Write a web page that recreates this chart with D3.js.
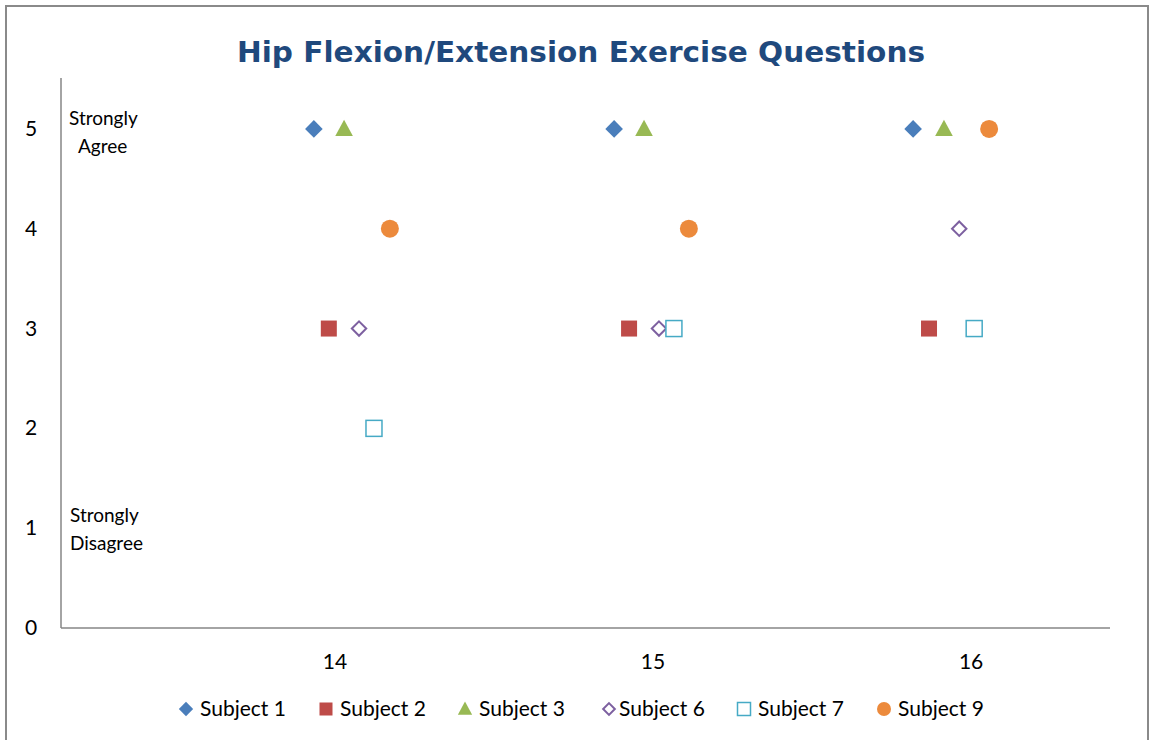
<!DOCTYPE html>
<html>
<head>
<meta charset="utf-8">
<script src="https://cdn.jsdelivr.net/npm/d3@7"></script>
<style>
  body { margin: 0; background: #fff; }
  text { font-family: Lato, "Open Sans", sans-serif; fill: #000; }
</style>
</head>
<body>
<div id="chart"></div>
<script>
var questions = [14, 15, 16];
var yTicks = [0, 1, 2, 3, 4, 5];
var subjects = ['Subject 1', 'Subject 2', 'Subject 3', 'Subject 6', 'Subject 7', 'Subject 9'];
var colors = ['#4a7ebb', '#be4b48', '#98b954', '#7d60a0', '#46aac5', '#ec8a3c'];
var shapes = ['diamond', 'square', 'triangle', 'diamondOpen', 'squareOpen', 'circle'];

// x positions are jittered around each question
var xS1 = [13.94, 14.884, 15.824];
var xS2 = [13.987, 14.931, 15.874];
var xS3 = [14.035, 14.978, 15.921];
var xS6 = [14.082, 15.025, 15.969];
var xS7 = [14.129, 15.072, 16.016];
var xS9 = [14.179, 15.119, 16.063];

var yS1 = [5, 5, 5];
var yS2 = [3, 3, 3];
var yS3 = [5, 5, 5];
var yS6 = [3, 3, 4];
var yS7 = [2, 3, 3];
var yS9 = [4, 4, 5];

var xs = [xS1, xS2, xS3, xS6, xS7, xS9];
var ys = [yS1, yS2, yS3, yS6, yS7, yS9];

var W = 1151, H = 740;
var svg = d3.select('#chart').append('svg').attr('width', W).attr('height', H);

// outer frame
svg.append('rect')
  .attr('x', 6).attr('y', 6).attr('width', 1142).attr('height', 740)
  .attr('fill', 'none').attr('stroke', '#8a8a8a').attr('stroke-width', 2);

var x = d3.scaleLinear().domain([13.145, 16.443]).range([61, 1110]);
var y = d3.scaleLinear().domain([0, 5.5]).range([628, 79]);

// title
svg.append('text')
  .attr('x', 581).attr('y', 62)
  .attr('text-anchor', 'middle')
  .attr('textLength', 688).attr('lengthAdjust', 'spacingAndGlyphs')
  .style('font-family', '"DejaVu Sans", sans-serif')
  .style('font-weight', 'bold').style('font-size', '29px')
  .style('fill', '#1f497d')
  .text('Hip Flexion/Extension Exercise Questions');

// axes
svg.append('line')
  .attr('x1', x.range()[0]).attr('x2', x.range()[0])
  .attr('y1', 78).attr('y2', y(0))
  .attr('stroke', '#868686').attr('stroke-width', 1.5);
svg.append('line')
  .attr('x1', x.range()[0]).attr('x2', x.range()[1])
  .attr('y1', y(0)).attr('y2', y(0))
  .attr('stroke', '#868686').attr('stroke-width', 1.5);

svg.selectAll('.ytick')
  .data(yTicks).enter().append('text')
  .attr('class', 'ytick')
  .attr('x', 31).attr('y', function(d) { return y(d) + 7; })
  .attr('text-anchor', 'middle')
  .style('font-size', '21px')
  .text(function(d) { return d; });

svg.selectAll('.xtick')
  .data(questions).enter().append('text')
  .attr('class', 'xtick')
  .attr('x', function(d) { return x(d) + 2; }).attr('y', 669)
  .attr('text-anchor', 'middle')
  .style('font-size', '21px')
  .text(function(d) { return d; });

// anchor labels
var anno = svg.append('g').style('font-size', '19px');
anno.append('text').attr('x', 69).attr('y', 125).text('Strongly');
anno.append('text').attr('x', 78).attr('y', 153).text('Agree');
anno.append('text').attr('x', 70).attr('y', 522).text('Strongly');
anno.append('text').attr('x', 70).attr('y', 550).text('Disagree');

function diamondPath(r) {
  return 'M0,' + (-r) + 'L' + r + ',0L0,' + r + 'L' + (-r) + ',0Z';
}

function drawMarker(g, shape, color, s) {
  if (shape === 'diamond') {
    g.append('path').attr('d', diamondPath(s * 0.55)).attr('fill', color);
  } else if (shape === 'diamondOpen') {
    g.append('path').attr('d', diamondPath(s * 0.45))
      .attr('fill', '#fff').attr('stroke', color).attr('stroke-width', 2);
  } else if (shape === 'square') {
    g.append('rect').attr('x', -s / 2).attr('y', -s / 2)
      .attr('width', s).attr('height', s).attr('fill', color);
  } else if (shape === 'squareOpen') {
    g.append('rect').attr('x', -s / 2).attr('y', -s / 2)
      .attr('width', s).attr('height', s)
      .attr('fill', '#fff').attr('stroke', color).attr('stroke-width', 1.5);
  } else if (shape === 'triangle') {
    g.append('path').attr('d', 'M0,' + (-s * 0.58) + 'L' + (s * 0.55) + ',' + (s * 0.45) + 'L' + (-s * 0.55) + ',' + (s * 0.45) + 'Z')
      .attr('fill', color);
  } else {
    g.append('circle').attr('r', s / 2).attr('fill', color);
  }
}

subjects.forEach(function(name, i) {
  var pts = xs[i].map(function(v, j) { return [v, ys[i][j]]; });
  pts.forEach(function(p) {
    var g = svg.append('g').attr('transform', 'translate(' + x(p[0]) + ',' + y(p[1]) + ')');
    drawMarker(g, shapes[i], colors[i], shapes[i] === 'circle' ? 18 : 16);
  });
});

// legend
var legendX = [186, 326, 465, 609, 744, 884];
var legend = svg.append('g');
subjects.forEach(function(name, i) {
  var g = legend.append('g').attr('transform', 'translate(' + legendX[i] + ',709)');
  drawMarker(g, shapes[i], colors[i], shapes[i] === 'circle' ? 14 : 13);
  g.append('text').attr('x', i === 3 ? 10 : 14).attr('y', 7)
    .style('font-size', '21px').text(name);
});
</script>
</body>
</html>
